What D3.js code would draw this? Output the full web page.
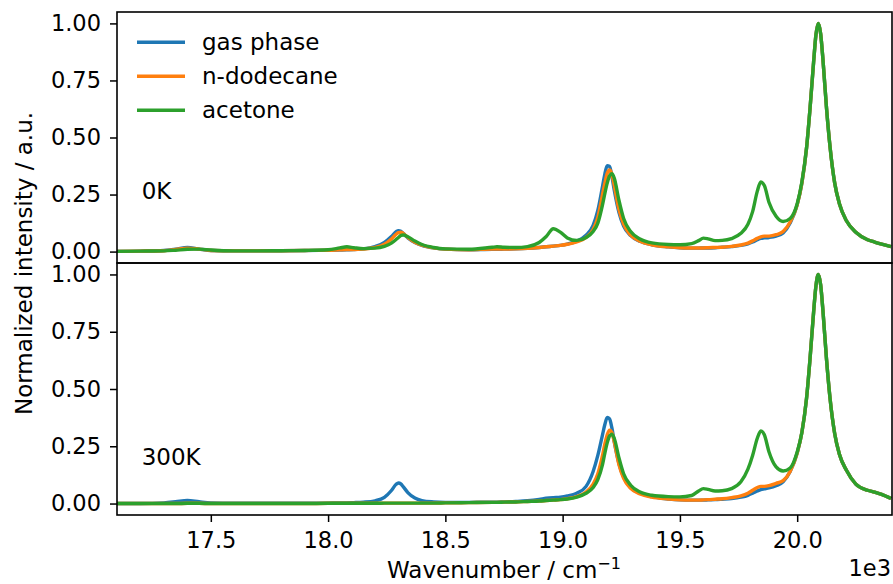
<!DOCTYPE html>
<html>
<head>
<meta charset="utf-8">
<script src="https://d3js.org/d3.v7.min.js"></script>
<style>
  body { margin: 0; background: #fff; }
  svg { display: block; }
  text { font-family: "DejaVu Sans", sans-serif; }
</style>
</head>
<body>
<script>
// wavenumber grid (cm^-1), shared by every curve
const wavenumber = [17100,17200,17300,17350,17400,17450,17500,17600,17700,17800,17900,18000,
  18050,18080,18110,18150,18200,18240,18270,18290,18300,18310,18320,18340,18370,18400,18450,
  18500,18600,18700,18720,18750,18800,18850,18900,18930,18960,18990,19020,19060,19100,19130,
  19150,19170,19180,19190,19200,19210,19220,19240,19260,19290,19330,19380,19450,19500,19550,
  19580,19600,19620,19650,19680,19720,19760,19790,19810,19830,19845,19860,19880,19910,19940,
  19970,20000,20020,20040,20055,20070,20080,20090,20100,20110,20125,20140,20160,20180,20210,
  20250,20300,20330,20360,20400];

// 0K panel
const gas0K = [0.001,0.002,0.005,0.010,0.018,0.011,0.005,0.003,0.003,0.004,0.005,0.006,
  0.007,0.008,0.009,0.012,0.022,0.040,0.066,0.087,0.092,0.089,0.080,0.060,0.040,0.027,0.016,
  0.011,0.008,0.010,0.010,0.011,0.012,0.014,0.018,0.021,0.024,0.027,0.033,0.046,0.072,0.115,
  0.180,0.285,0.340,0.376,0.374,0.330,0.270,0.172,0.112,0.070,0.045,0.030,0.021,0.017,0.015,
  0.015,0.016,0.016,0.017,0.019,0.022,0.027,0.034,0.042,0.052,0.058,0.060,0.062,0.068,0.082,
  0.125,0.205,0.300,0.455,0.630,0.830,0.950,1.000,0.955,0.840,0.630,0.460,0.300,0.210,0.135,
  0.085,0.052,0.042,0.033,0.022];
const dodecane0K = [0.001,0.002,0.004,0.009,0.015,0.011,0.005,0.003,0.003,0.004,0.005,0.006,
  0.008,0.009,0.009,0.011,0.018,0.032,0.055,0.076,0.083,0.085,0.080,0.062,0.041,0.028,0.016,
  0.011,0.008,0.011,0.011,0.011,0.012,0.014,0.018,0.021,0.024,0.027,0.032,0.042,0.062,0.097,
  0.150,0.250,0.300,0.343,0.358,0.340,0.290,0.185,0.120,0.072,0.045,0.030,0.021,0.017,0.016,
  0.016,0.016,0.017,0.018,0.019,0.023,0.029,0.037,0.047,0.058,0.065,0.068,0.068,0.074,0.088,
  0.130,0.205,0.300,0.455,0.630,0.830,0.950,1.000,0.955,0.840,0.630,0.460,0.300,0.210,0.135,
  0.085,0.052,0.042,0.033,0.022];
const acetone0K = [0.001,0.002,0.003,0.006,0.010,0.011,0.007,0.003,0.003,0.004,0.005,0.008,
  0.016,0.021,0.017,0.013,0.015,0.023,0.037,0.053,0.062,0.070,0.073,0.065,0.046,0.031,0.018,
  0.012,0.010,0.019,0.021,0.019,0.018,0.022,0.040,0.066,0.100,0.085,0.060,0.049,0.062,0.088,
  0.125,0.205,0.255,0.300,0.332,0.341,0.322,0.225,0.145,0.088,0.055,0.038,0.031,0.030,0.035,
  0.048,0.059,0.056,0.048,0.049,0.057,0.080,0.120,0.175,0.265,0.305,0.290,0.215,0.155,0.132,
  0.145,0.210,0.305,0.455,0.630,0.830,0.950,1.000,0.955,0.840,0.630,0.460,0.300,0.210,0.135,
  0.085,0.052,0.042,0.033,0.022];

// 300K panel
const gas300K = [0.000,0.000,0.003,0.008,0.014,0.008,0.003,0.001,0.001,0.001,0.001,0.002,
  0.003,0.003,0.004,0.006,0.012,0.027,0.057,0.084,0.090,0.086,0.074,0.048,0.024,0.013,0.007,
  0.005,0.005,0.006,0.006,0.007,0.009,0.012,0.018,0.023,0.026,0.028,0.033,0.045,0.075,0.140,
  0.210,0.300,0.345,0.376,0.370,0.330,0.270,0.175,0.115,0.070,0.045,0.030,0.020,0.016,0.015,
  0.015,0.015,0.016,0.017,0.019,0.022,0.028,0.036,0.045,0.055,0.061,0.064,0.068,0.078,0.095,
  0.140,0.220,0.310,0.460,0.635,0.835,0.950,1.000,0.955,0.840,0.630,0.460,0.305,0.215,0.145,
  0.085,0.058,0.050,0.040,0.022];
const dodecane300K = [0.000,0.000,0.000,0.000,0.001,0.001,0.000,0.000,0.000,0.000,0.000,0.001,
  0.001,0.001,0.001,0.001,0.001,0.002,0.002,0.002,0.002,0.002,0.002,0.002,0.002,0.002,0.002,
  0.003,0.004,0.005,0.005,0.006,0.007,0.009,0.011,0.013,0.015,0.017,0.021,0.030,0.050,0.085,
  0.130,0.210,0.260,0.300,0.320,0.310,0.270,0.170,0.110,0.066,0.042,0.028,0.020,0.016,0.015,
  0.015,0.016,0.017,0.019,0.021,0.026,0.033,0.045,0.058,0.070,0.075,0.075,0.078,0.088,0.100,
  0.140,0.220,0.310,0.460,0.635,0.835,0.950,1.000,0.955,0.840,0.630,0.460,0.305,0.215,0.145,
  0.085,0.058,0.050,0.040,0.022];
const acetone300K = [0.000,0.000,0.000,0.000,0.001,0.001,0.000,0.000,0.000,0.000,0.000,0.001,
  0.001,0.001,0.001,0.001,0.001,0.002,0.002,0.002,0.002,0.002,0.002,0.002,0.002,0.002,0.002,
  0.003,0.004,0.005,0.005,0.006,0.007,0.009,0.011,0.013,0.015,0.017,0.020,0.028,0.045,0.070,
  0.105,0.170,0.220,0.265,0.295,0.303,0.285,0.200,0.130,0.080,0.050,0.036,0.030,0.029,0.035,
  0.055,0.065,0.062,0.055,0.056,0.065,0.095,0.150,0.210,0.285,0.317,0.300,0.225,0.160,0.142,
  0.155,0.225,0.310,0.460,0.635,0.835,0.950,1.000,0.955,0.840,0.630,0.460,0.305,0.215,0.145,
  0.085,0.058,0.050,0.040,0.022];

const seriesNames = ["gas phase", "n-dodecane", "acetone"];
const panelLabels = ["0K", "300K"];
const xTicks = [17500, 18000, 18500, 19000, 19500, 20000];
const yTicks = [0, 0.25, 0.5, 0.75, 1.0];

const colors = ["#1f77b4", "#ff7f0e", "#2ca02c"];
const fontSize = 23;
const tickFont = 22.5;

var svg = d3.select("body").append("svg")
  .attr("width", 893)
  .attr("height", 584);

var left = 117, right = 892;
var x = d3.scaleLinear().domain([17100, 20400]).range([left, 891]);

var panels = [
  {top: 12, bottom: 263, series: [gas0K, dodecane0K, acetone0K], label: panelLabels[0], labelY: 0.23},
  {top: 263, bottom: 515, series: [gas300K, dodecane300K, acetone300K], label: panelLabels[1], labelY: 0.167}
];

panels.forEach(function(p, i) {
  var y = d3.scaleLinear().domain([-0.05, 1.05]).range([p.bottom, p.top]);

  // clip area for the curves
  svg.append("defs").append("clipPath")
    .attr("id", "clip" + i)
    .append("rect")
    .attr("x", left).attr("y", p.top)
    .attr("width", right - left).attr("height", p.bottom - p.top);

  var line = d3.line()
    .x(function(d, j) { return x(wavenumber[j]); })
    .y(function(d) { return y(d); })
    .curve(d3.curveMonotoneX);

  var g = svg.append("g").attr("clip-path", "url(#clip" + i + ")");
  p.series.forEach(function(s, k) {
    g.append("path")
      .datum(s)
      .attr("d", line)
      .attr("fill", "none")
      .attr("stroke", colors[k])
      .attr("stroke-width", 3.4)
      .attr("stroke-linejoin", "round")
      .attr("stroke-linecap", "butt");
  });

  // y axis
  svg.append("g")
    .attr("transform", "translate(" + left + ",0)")
    .call(d3.axisLeft(y).tickValues(yTicks).tickFormat(d3.format(".2f")).tickSize(7).tickPadding(9))
    .call(function(a) { a.select(".domain").remove(); })
    .attr("font-family", "DejaVu Sans")
    .attr("font-size", tickFont)
    .call(function(a) { a.selectAll("line").attr("stroke-width", 1.5); });

  // panel label
  svg.append("text")
    .attr("x", x(17205))
    .attr("y", y(p.labelY))
    .attr("font-size", fontSize)
    .text(p.label);

  // frame
  svg.append("rect")
    .attr("x", left).attr("y", p.top)
    .attr("width", right - left).attr("height", p.bottom - p.top)
    .attr("fill", "none")
    .attr("stroke", "#000")
    .attr("stroke-width", 1.6);

  if (i == 1) {
    svg.append("g")
      .attr("transform", "translate(0," + p.bottom + ")")
      .call(d3.axisBottom(x).tickValues(xTicks).tickFormat(function(d) { return (d / 1000).toFixed(1); }).tickSize(7).tickPadding(10))
      .call(function(a) { a.select(".domain").remove(); })
      .attr("font-family", "DejaVu Sans")
      .attr("font-size", tickFont)
      .call(function(a) { a.selectAll("line").attr("stroke-width", 1.5); });
  }
});

// legend
var legend = svg.append("g");
seriesNames.forEach(function(name, k) {
  var ly = 42.3 + k * 34;
  legend.append("line")
    .attr("x1", 137).attr("x2", 185)
    .attr("y1", ly).attr("y2", ly)
    .attr("stroke", colors[k])
    .attr("stroke-width", 3.4);
  legend.append("text")
    .attr("x", 202)
    .attr("y", ly + 7.7)
    .attr("font-size", fontSize)
    .text(name);
});

// axis labels
svg.append("text")
  .attr("transform", "translate(31.5,263.5) rotate(-90)")
  .attr("text-anchor", "middle")
  .attr("font-size", fontSize)
  .text("Normalized intensity / a.u.");

var xl = svg.append("text")
  .attr("x", 504)
  .attr("y", 578)
  .attr("text-anchor", "middle")
  .attr("font-size", fontSize);
xl.append("tspan").text("Wavenumber / cm");
xl.append("tspan").attr("dy", -9).attr("font-size", 16).text("\u22121");

svg.append("text")
  .attr("x", 891)
  .attr("y", 576)
  .attr("text-anchor", "end")
  .attr("font-size", tickFont)
  .text("1e3");
</script>
</body>
</html>
